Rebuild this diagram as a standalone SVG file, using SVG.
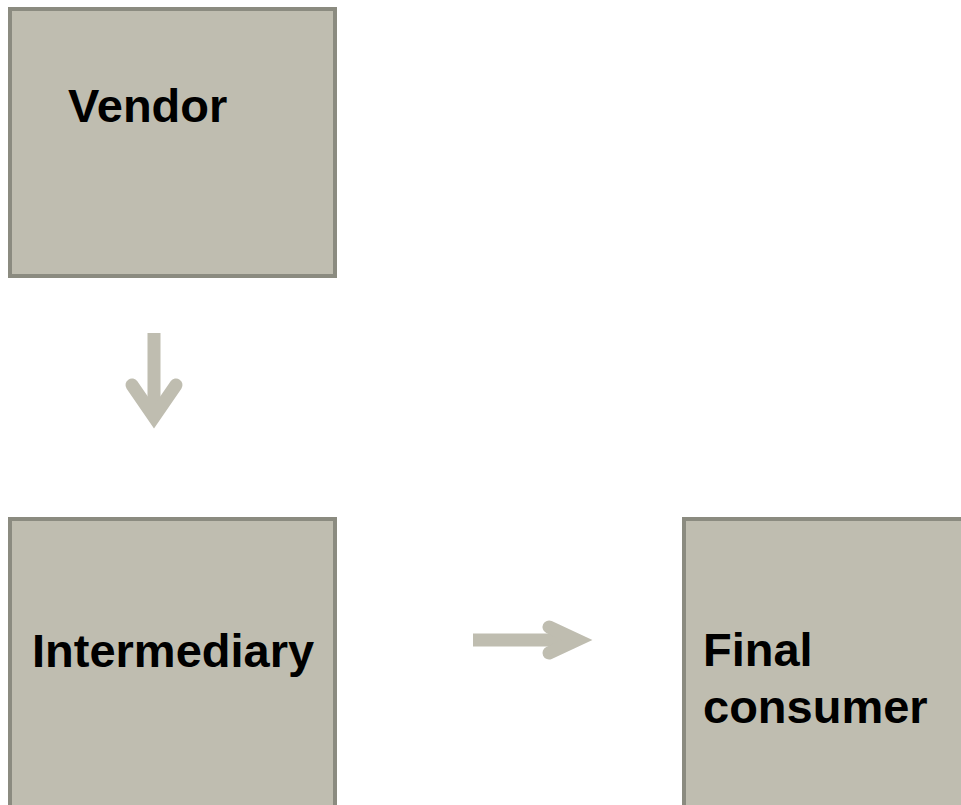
<svg xmlns="http://www.w3.org/2000/svg" width="961" height="805" viewBox="0 0 961 805">
<defs>
<style>
.box{fill:#BFBDB0;stroke:#8B8B80;stroke-width:4}
.lbl{font-family:"Liberation Sans",Arial,sans-serif;font-weight:bold;font-size:47px;fill:#000}
.arr{fill:none;stroke:#BFBDB0;stroke-width:13;stroke-linecap:round;stroke-linejoin:miter}
.shaft{fill:none;stroke:#BFBDB0;stroke-width:13;stroke-linecap:butt}
</style>
</defs>
<rect width="961" height="805" fill="#fff"/>
<g id="vendor">
<rect class="box" x="10" y="9" width="325" height="267"/>
<text class="lbl" x="68" y="122">Vendor</text>
</g>
<g id="intermediary">
<rect class="box" x="10" y="519" width="325" height="300"/>
<text class="lbl" x="32" y="667">Intermediary</text>
</g>
<g id="final-consumer">
<rect class="box" x="684" y="519" width="300" height="300"/>
<text class="lbl" x="703" y="666">Final</text>
<text class="lbl" x="703" y="723">consumer</text>
</g>
<g id="connectors">
<line class="shaft" x1="154" y1="333" x2="154" y2="418"/>
<polyline class="arr" points="132,385 154,417 176,385"/>
<line class="shaft" x1="473" y1="640" x2="576" y2="640"/>
<polyline class="arr" points="549,627 577,640 549,653"/>
</g>
</svg>
